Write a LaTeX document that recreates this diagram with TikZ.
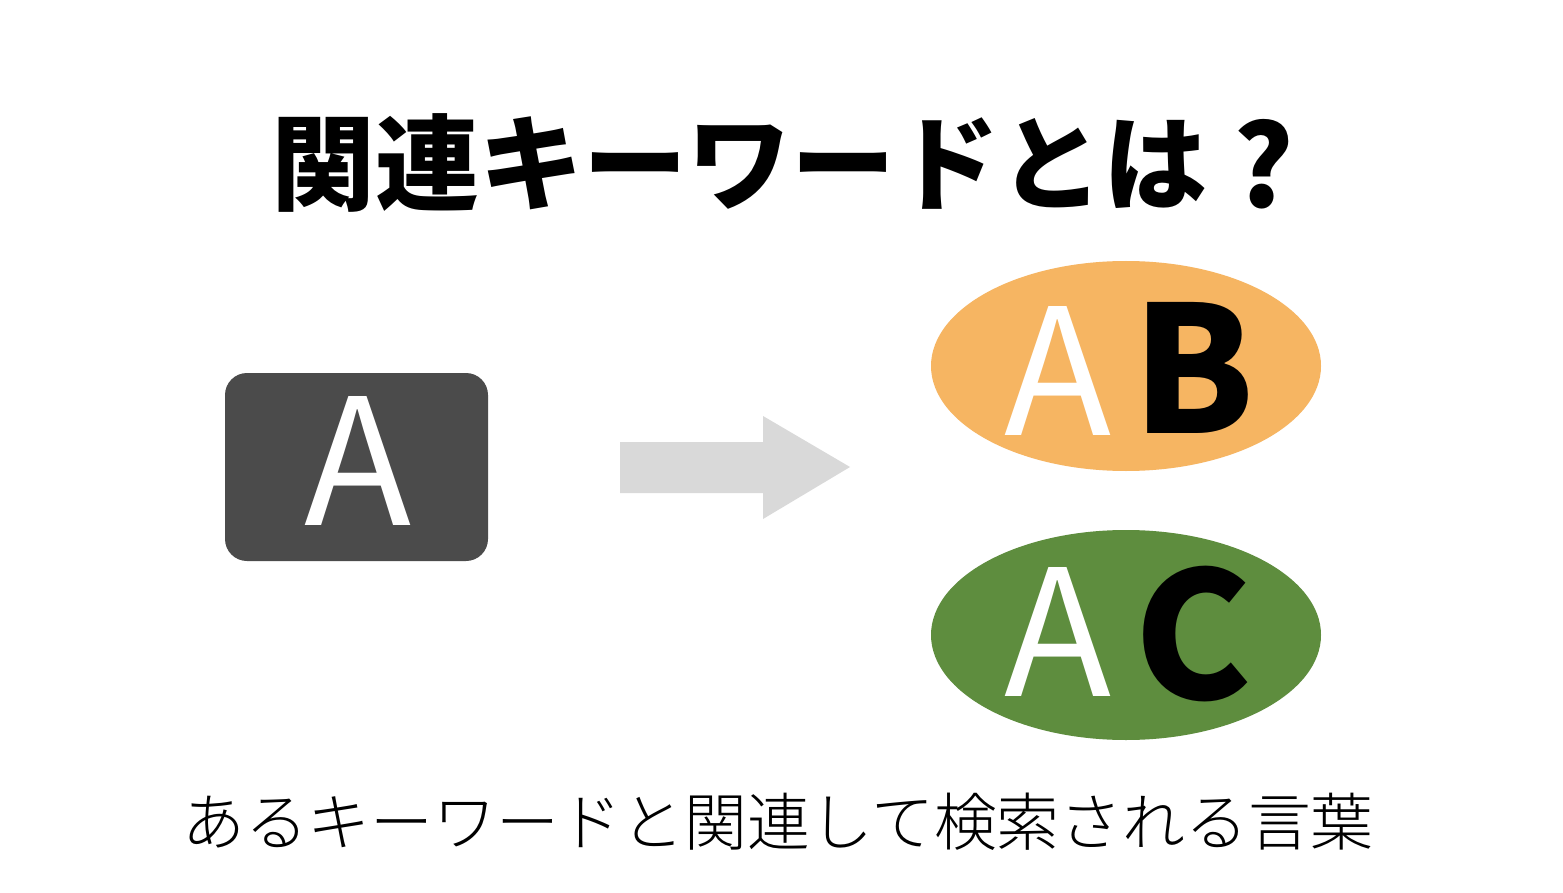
\documentclass[tikz,border=0pt]{standalone}
\usepackage{fontspec}
\newfontfamily\cjk{Noto Sans CJK JP}
\IfFontExistsTF{Noto Sans CJK JP Light}
  {\newfontfamily\cjklight{Noto Sans CJK JP Light}}
  {\newfontfamily\cjklight{Noto Sans CJK JP}}
\definecolor{boxgray}{HTML}{4B4B4B}
\definecolor{arrowgray}{HTML}{D9D9D9}
\definecolor{orangefill}{HTML}{F6B562}
\definecolor{greenfill}{HTML}{5E8D3E}
\tikzset{
  bigletter/.style={inner sep=0pt, anchor=base, font=\cjk\fontsize{176}{176}\selectfont},
  boldletter/.style={inner sep=0pt, anchor=base, font=\cjk\bfseries\fontsize{176}{176}\selectfont},
  keybox/.style={fill=boxgray, rounded corners=22pt},
  keyellipse/.style={ellipse, minimum width=390pt, minimum height=210pt, inner sep=0pt},
}
\usetikzlibrary{shapes.geometric}
\begin{document}
\begin{tikzpicture}[x=1pt,y=-1pt]
\useasboundingbox (0,0) rectangle (1563,893);
\fill[white] (0,0) rectangle (1563,893);
% title
\node[inner sep=0pt, anchor=base] (title) at (783,203)
  {\cjk\bfseries\fontsize{104}{104}\selectfont 関連キーワードとは\hspace{26pt}\raisebox{-5pt}{\fontsize{113}{113}\selectfont ?}};
% left box
\fill[keybox] (225,373) rectangle (488,561);
\node[bigletter, text=white] (a) at (358,525) {A};
% arrow
\fill[arrowgray] (620,442) -- (763,442) -- (763,416) -- (850,467) -- (763,519) -- (763,493) -- (620,493) -- cycle;
% ellipses
\node[keyellipse, fill=orangefill] (ab) at (1126,366) {};
\node[keyellipse, fill=greenfill] (ac) at (1126,635) {};
\node[bigletter, text=white] (ab-a) at (1058,435) {A};
\node[boldletter, text=black] (ab-b) at (1194,433) {B};
\node[bigletter, text=white] (ac-a) at (1058,696) {A};
\node[boldletter, text=black] (ac-c) at (1193,699) {C};
% caption
\node[inner sep=0pt, anchor=base] (caption) at (778,845)
  {\cjklight\fontsize{62.8}{62.8}\selectfont あるキーワードと関連して検索される言葉};
\end{tikzpicture}
\end{document}
